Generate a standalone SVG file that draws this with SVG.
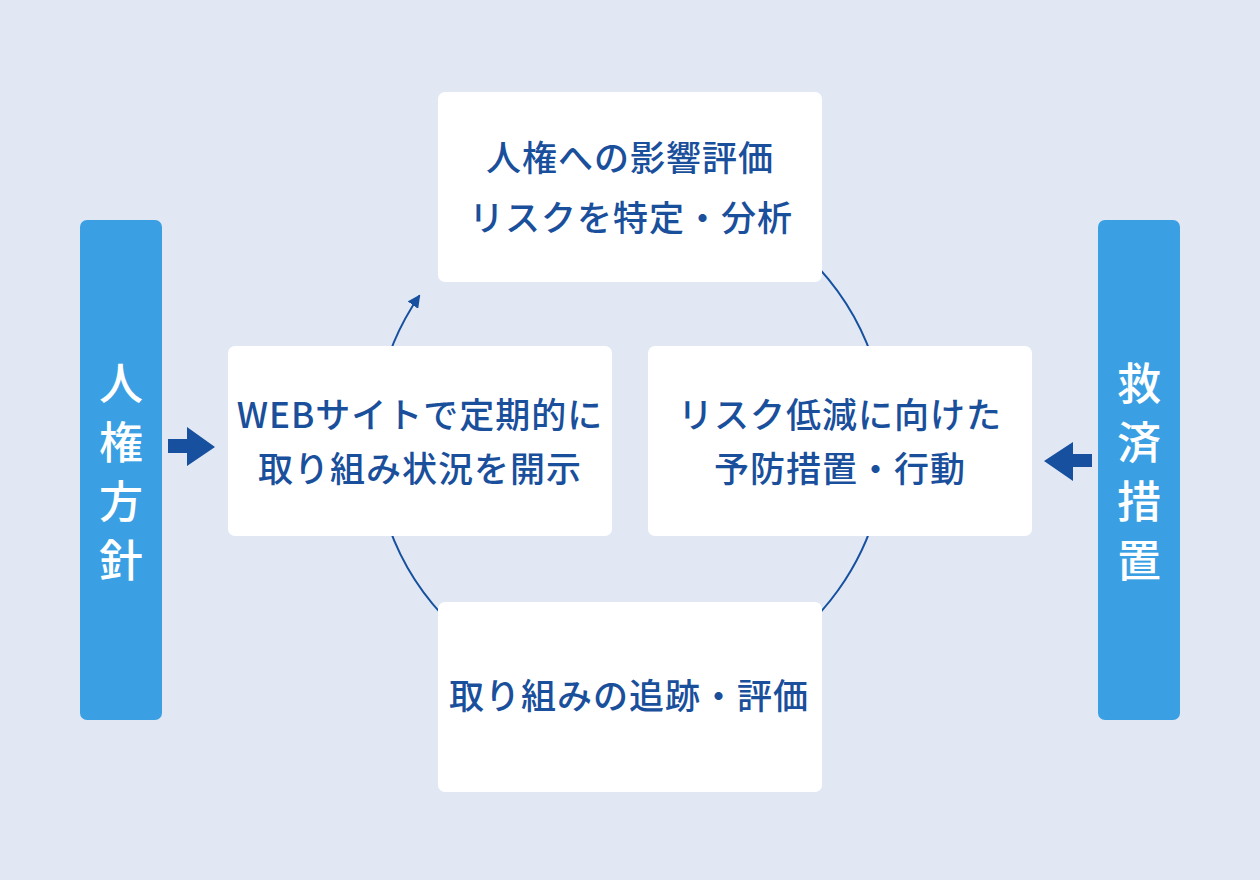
<svg xmlns="http://www.w3.org/2000/svg" width="1260" height="880" viewBox="0 0 1260 880">
<defs>
<style>
.box{fill:#ffffff}
.side{fill:#3a9fe3}
.t{font-family:"Noto Sans CJK JP","Noto Sans",sans-serif;font-weight:500;font-size:35px;fill:#1a4f9c;text-anchor:middle;letter-spacing:1px}
.v{font-family:"Noto Sans CJK JP",sans-serif;font-weight:500;font-size:44px;fill:#ffffff;text-anchor:middle}
.arr{fill:#16509e}
</style>
<marker id="ah" viewBox="0 0 10 10" refX="9" refY="5" markerWidth="6.5" markerHeight="6.5" orient="auto" markerUnits="strokeWidth">
<path d="M0,0 L10,5 L0,10 z" fill="#16509e"/>
</marker>
</defs>
<rect width="1260" height="880" fill="#e1e8f4"/>
<g id="connectors">
<path d="M630,185 A256,256 0 1 1 419.5,295.5" fill="none" stroke="#16509e" stroke-width="2" marker-end="url(#ah)"/>
<path class="arr" d="M168,439 H187 V427 L215,447 L187,466 V453 H168 z"/>
<path class="arr" d="M1092,454 H1073 V442 L1044,461 L1073,481 V467 H1092 z"/>
</g>
<g id="left-side"><rect class="side" x="80" y="220" width="82" height="500" rx="7"/>
<text class="v" x="121" y="400">人</text><text class="v" x="121" y="459">権</text><text class="v" x="121" y="518">方</text><text class="v" x="121" y="577">針</text></g>
<g id="right-side"><rect class="side" x="1098" y="220" width="82" height="500" rx="7"/>
<text class="v" x="1139" y="400">救</text><text class="v" x="1139" y="459">済</text><text class="v" x="1139" y="518">措</text><text class="v" x="1139" y="577">置</text></g>
<g id="top"><rect class="box" x="438" y="92" width="384" height="190" rx="7"/>
<text class="t" x="630" y="171">人権への影響評価</text><text class="t" x="631" y="231">リスクを特定・分析</text></g>
<g id="left"><rect class="box" x="228" y="346" width="384" height="190" rx="7"/>
<text class="t" x="420" y="428">WEBサイトで定期的に</text><text class="t" x="420" y="482">取り組み状況を開示</text></g>
<g id="right"><rect class="box" x="648" y="346" width="384" height="190" rx="7"/>
<text class="t" x="840" y="428">リスク低減に向けた</text><text class="t" x="840" y="482">予防措置・行動</text></g>
<g id="bottom"><rect class="box" x="438" y="602" width="384" height="190" rx="7"/>
<text class="t" x="629" y="709">取り組みの追跡・評価</text></g>
</svg>
